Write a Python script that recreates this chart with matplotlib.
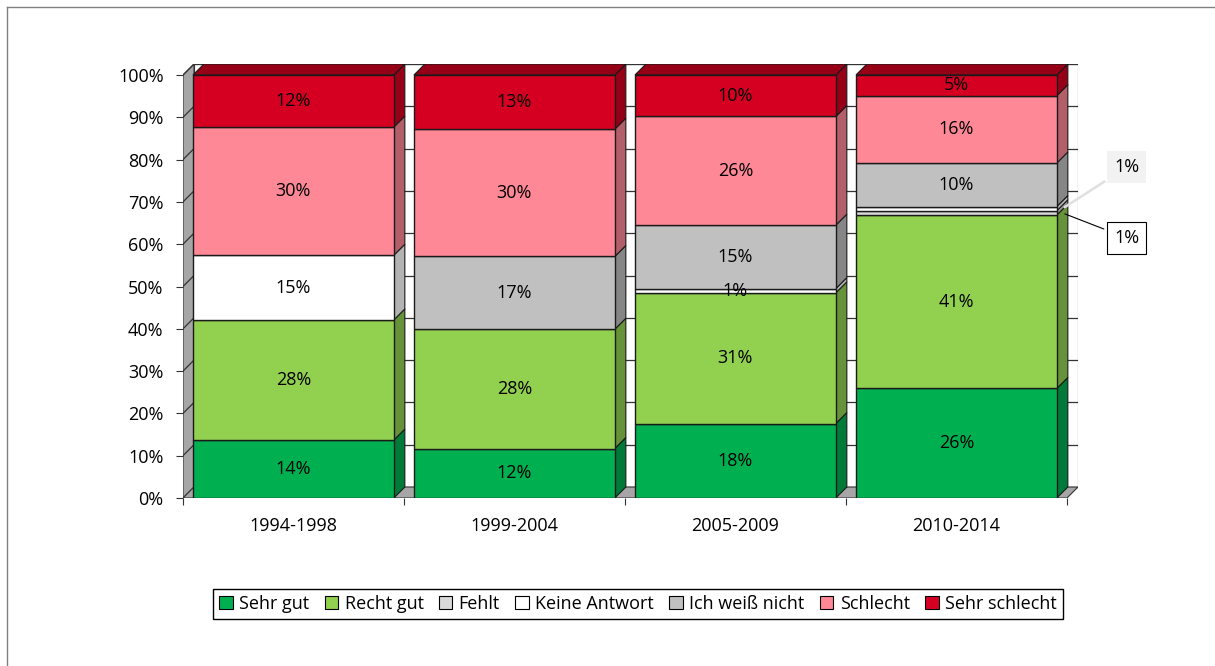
import matplotlib.pyplot as plt
from matplotlib.patches import Polygon, Patch
from matplotlib.lines import Line2D

plt.rcParams['font.family'] = ['Open Sans', 'DejaVu Sans']

# data (percent of answers per period)
periods = ['1994-1998', '1999-2004', '2005-2009', '2010-2014']
series = ['Sehr gut', 'Recht gut', 'Fehlt', 'Keine Antwort', 'Ich weiß nicht', 'Schlecht', 'Sehr schlecht']
sehr_gut = [13.7, 11.7, 17.6, 25.9]
recht_gut = [28.4, 28.2, 30.9, 41.0]
fehlt = [0.0, 0.0, 0.0, 1.0]
keine_antwort = [15.3, 0.0, 1.0, 1.0]
ich_weiss_nicht = [0.0, 17.2, 15.0, 10.3]
schlecht = [30.3, 30.1, 25.7, 15.9]
sehr_schlecht = [12.3, 12.8, 9.8, 4.9]
values = [sehr_gut, recht_gut, fehlt, keine_antwort, ich_weiss_nicht, schlecht, sehr_schlecht]

front_colors = ['#00B050', '#92D050', '#D9D9D9', '#FFFFFF', '#C0C0C0', '#FF8897', '#D50021']
side_colors = ['#007A38', '#66923A', '#989898', '#B3B3B3', '#868686', '#B25F6A', '#950017']

# 3d depth offsets in data units
ddx = 11 / 221
ddy = 11 / 4.23
bar_off = 0.045
bar_w = 0.909
fs = 13

fig = plt.figure(figsize=(12.15, 6.66), dpi=100)
W, H = 1215, 666
ax = fig.add_axes([183 / W, (H - 498) / H, (1078 - 183) / W, (498 - 64) / H])
ax.set_xlim(0, 4 + ddx)
ax.set_ylim(0, 100 + ddy)
for s in ax.spines.values():
    s.set_visible(False)

edge = '#333333'

# back wall, left wall, floor
ax.add_patch(Polygon([(ddx, ddy), (4 + ddx, ddy), (4 + ddx, 100 + ddy), (ddx, 100 + ddy)],
                     closed=True, facecolor='white', edgecolor=edge, lw=0.8, zorder=1))
ax.add_patch(Polygon([(0, 0), (ddx, ddy), (ddx, 100 + ddy), (0, 100)],
                     closed=True, facecolor='#A6A6A6', edgecolor=edge, lw=0.8, zorder=1))
ax.add_patch(Polygon([(0, 0), (4, 0), (4 + ddx, ddy), (ddx, ddy)],
                     closed=True, facecolor='#A6A6A6', edgecolor=edge, lw=0.8, zorder=1))
for y in range(10, 101, 10):
    ax.plot([ddx, 4 + ddx], [y + ddy, y + ddy], color=edge, lw=0.9, zorder=1.5)
    ax.plot([0, ddx], [y, y + ddy], color=edge, lw=0.9, zorder=1.5)

# bars
for i in range(len(periods)):
    x0 = i + bar_off
    x1 = x0 + bar_w
    bottom = 0.0
    top_idx = max(k for k in range(len(series)) if values[k][i] > 0)
    for k in range(len(series)):
        v = values[k][i]
        if v <= 0:
            continue
        b, t = bottom, bottom + v
        ax.bar(x0, v, bottom=b, width=bar_w, align='edge', color=front_colors[k],
               edgecolor='#1A1A1A', lw=1.0, zorder=3)
        ax.add_patch(Polygon([(x1, b), (x1 + ddx, b + ddy), (x1 + ddx, t + ddy), (x1, t)],
                             closed=True, facecolor=side_colors[k], edgecolor='#1A1A1A', lw=0.8, zorder=2.5))
        if k == top_idx:
            ax.add_patch(Polygon([(x0, t), (x1, t), (x1 + ddx, t + ddy), (x0 + ddx, t + ddy)],
                                 closed=True, facecolor=side_colors[k], edgecolor='#1A1A1A', lw=0.8, zorder=2.5))
        label = '%d%%' % round(v)
        if i == 3 and v < 2:
            # small slices get callouts
            if k == 2:
                ax.annotate(label, xy=(x1 + ddx / 2, b + v / 2), xytext=(4.27, 61.5),
                            ha='center', va='center', fontsize=fs, annotation_clip=False,
                            bbox=dict(boxstyle='square,pad=0.4', fc='white', ec='black', lw=0.8),
                            arrowprops=dict(arrowstyle='-', color='black', lw=0.8), zorder=5)
            else:
                ax.annotate(label, xy=(x1 + ddx / 2, b + v / 2), xytext=(4.27, 78.2),
                            ha='center', va='center', fontsize=fs, annotation_clip=False,
                            bbox=dict(boxstyle='square,pad=0.4', fc='#F2F2F2', ec='none'),
                            arrowprops=dict(arrowstyle='-', color='#E0E0E0', lw=1.8), zorder=5)
        else:
            ax.text((x0 + x1) / 2, b + v / 2, label, ha='center', va='center',
                    fontsize=fs, color='black', zorder=4)
        bottom = t

# axes ticks and labels
ax.set_yticks(range(0, 101, 10))
ax.set_yticklabels(['%d%%' % y for y in range(0, 101, 10)], fontsize=fs)
ax.set_xticks(range(0, 5))
ax.set_xticklabels([''] * 5)
ax.set_xticks([i + 0.5 for i in range(4)], minor=True)
ax.set_xticklabels(periods, minor=True, fontsize=fs)
ax.tick_params(axis='y', direction='out', length=5, width=0.8, color=edge, pad=9)
ax.tick_params(axis='x', which='major', direction='out', length=5, width=0.8, color=edge)
ax.tick_params(axis='x', which='minor', length=0, pad=14)

# legend
handles = [Patch(facecolor=c, edgecolor='black', lw=0.8) for c in front_colors]
fig.legend(handles, series, loc='center', bbox_to_anchor=(638 / W, 1 - 604 / H), ncol=7,
           fontsize=fs, frameon=True, fancybox=False, edgecolor='black', framealpha=1,
           handlelength=0.75, handleheight=0.75, handletextpad=0.35, columnspacing=0.85,
           borderpad=0.35)

# outer chart border
fig.add_artist(Line2D([7 / W, 1], [1 - 7 / H, 1 - 7 / H], color='#808080', lw=1))
fig.add_artist(Line2D([7 / W, 7 / W], [0, 1 - 7 / H], color='#808080', lw=1))

fig.savefig('out.png', dpi=100)
